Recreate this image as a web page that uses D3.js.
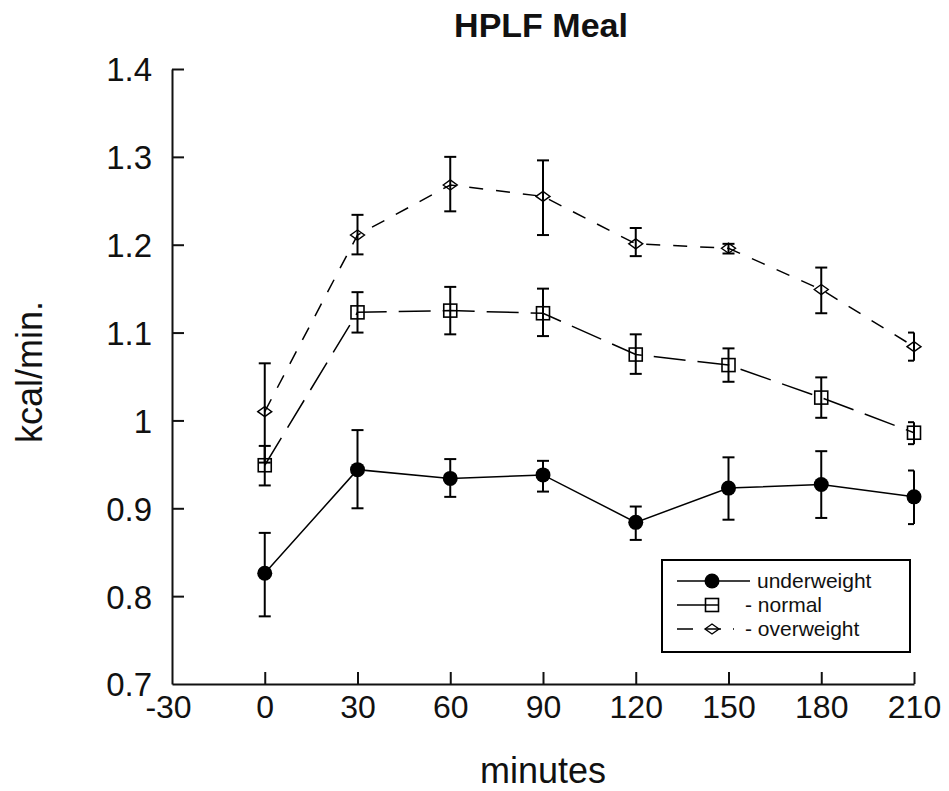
<!DOCTYPE html>
<html>
<head>
<meta charset="utf-8">
<script src="https://cdn.jsdelivr.net/npm/d3@7"></script>
<style>
  body { margin: 0; background: #fff; }
  svg { font-family: "Liberation Sans", Arial, sans-serif; }
</style>
</head>
<body>
<div id="chart"></div>
<script>
// data
const minutes = [0, 30, 60, 90, 120, 150, 180, 210]
const xTicks = [-30, 0, 30, 60, 90, 120, 150, 180, 210]
const yTicks = [0.7, 0.8, 0.9, 1.0, 1.1, 1.2, 1.3, 1.4]

const underweight = [0.826, 0.944, 0.934, 0.938, 0.884, 0.923, 0.927, 0.913]
const underweightLo = [0.777, 0.900, 0.913, 0.919, 0.864, 0.887, 0.889, 0.882]
const underweightHi = [0.872, 0.989, 0.956, 0.954, 0.902, 0.958, 0.965, 0.943]

const normal = [0.949, 1.123, 1.125, 1.122, 1.075, 1.063, 1.026, 0.986]
const normalLo = [0.926, 1.100, 1.098, 1.096, 1.053, 1.044, 1.003, 0.973]
const normalHi = [0.971, 1.146, 1.152, 1.150, 1.098, 1.082, 1.049, 0.998]

const overweight = [1.010, 1.211, 1.268, 1.255, 1.201, 1.196, 1.149, 1.084]
const overweightLo = [0.952, 1.189, 1.238, 1.211, 1.187, 1.190, 1.122, 1.068]
const overweightHi = [1.065, 1.234, 1.300, 1.296, 1.219, 1.201, 1.174, 1.100]

const series = [
    { name: "underweight", label: "underweight", v: underweight, lo: underweightLo, hi: underweightHi, dash: null, marker: "circle" },
    { name: "normal", label: "- normal", v: normal, lo: normalLo, hi: normalHi, dash: "32,12", marker: "square" },
    { name: "overweight", label: "- overweight", v: overweight, lo: overweightLo, hi: overweightHi, dash: "14,13", marker: "diamond" }
]

const width = 949, height = 791
const margin = { top: 69, right: 35, bottom: 107, left: 172 }

const svg = d3.select("#chart").append("svg")
    .attr("width", width)
    .attr("height", height)

const x = d3.scaleLinear().domain([-30, 210]).range([margin.left, width - margin.right])
const y = d3.scaleLinear().domain([0.7, 1.4]).range([height - margin.bottom, margin.top])

// axes, ticks pointing inward like the original
const xAxis = svg.append("g")
    .attr("transform", "translate(0," + (height - margin.bottom) + ")")
    .call(d3.axisBottom(x).tickValues(xTicks).tickSizeInner(-12).tickSizeOuter(0).tickPadding(11).tickFormat(d => String(d)))
const yAxis = svg.append("g")
    .attr("transform", "translate(" + margin.left + ",0)")
    .call(d3.axisLeft(y).tickValues(yTicks).tickSizeInner(-12).tickSizeOuter(0).tickPadding(20).tickFormat(d => d === 1 ? "1" : d3.format(".1f")(d)))

svg.selectAll(".domain, .tick line").attr("stroke", "#111").attr("stroke-width", 2)
xAxis.selectAll("text").attr("font-size", 32).attr("fill", "#111")
xAxis.selectAll(".tick").filter(d => d === -30).select("text").attr("dx", "-4")
yAxis.selectAll("text").attr("font-size", 33).attr("fill", "#111").attr("dy", "0.36em")
xAxis.selectAll(".tick").filter(d => d === -30).select("line").remove()
yAxis.selectAll(".tick").filter(d => d === 0.7).select("line").remove()

// titles
svg.append("text").attr("x", 541).attr("y", 37).attr("text-anchor", "middle")
    .attr("font-size", 34).attr("font-weight", "bold").attr("fill", "#111").text("HPLF Meal")
svg.append("text").attr("x", 543).attr("y", 783).attr("text-anchor", "middle")
    .attr("font-size", 36).attr("fill", "#111").text("minutes")
svg.append("text").attr("transform", "translate(42,372) rotate(-90)").attr("text-anchor", "middle")
    .attr("font-size", 36).attr("fill", "#111").text("kcal/min.")

function drawMarker(g, type, cx, cy) {
    if (type === "circle") {
        g.append("circle").attr("cx", cx).attr("cy", cy).attr("r", 7.5).attr("fill", "#000")
    } else if (type === "square") {
        g.append("rect").attr("x", cx - 6.5).attr("y", cy - 6.5).attr("width", 13).attr("height", 13)
            .attr("fill", "none").attr("stroke", "#000").attr("stroke-width", 1.6)
    } else {
        g.append("path").attr("d", `M${cx - 7},${cy} L${cx},${cy - 5} L${cx + 7},${cy} L${cx},${cy + 5} Z`)
            .attr("fill", "none").attr("stroke", "#000").attr("stroke-width", 1.4)
    }
}

const line = d3.line().x(d => x(d[0])).y(d => y(d[1]))

series.forEach(s => {
    const g = svg.append("g").attr("class", s.name)
    const pts = minutes.map((m, i) => [m, s.v[i]])

    g.append("path")
        .attr("d", line(pts))
        .attr("fill", "none")
        .attr("stroke", "#000")
        .attr("stroke-width", 1.5)
        .attr("stroke-dasharray", s.dash)

    // error bars
    minutes.forEach((m, i) => {
        const cx = x(m)
        g.append("line").attr("x1", cx).attr("x2", cx).attr("y1", y(s.lo[i])).attr("y2", y(s.hi[i]))
            .attr("stroke", "#000").attr("stroke-width", 2)
        const cw = m === 210 ? [cx - 6, cx] : [cx - 6, cx + 6]
        ;[s.lo[i], s.hi[i]].forEach(v => {
            g.append("line").attr("x1", cw[0]).attr("x2", cw[1]).attr("y1", y(v)).attr("y2", y(v))
                .attr("stroke", "#000").attr("stroke-width", 2)
        })
        drawMarker(g, s.marker, cx, y(s.v[i]))
    })
})

// legend
const lg = svg.append("g")
lg.append("rect").attr("x", 662).attr("y", 560).attr("width", 248).attr("height", 92)
    .attr("fill", "#fff").attr("stroke", "#000").attr("stroke-width", 2)
const rowY = [581, 605, 629]
series.forEach((s, i) => {
    const ly = rowY[i]
    lg.append("line").attr("x1", 677).attr("x2", s.dash ? 734 : 750).attr("y1", ly).attr("y2", ly)
        .attr("stroke", "#000").attr("stroke-width", 1.5)
        .attr("stroke-dasharray", s.dash ? (s.marker === "square" ? "41,100" : "16,12") : null)
    drawMarker(lg, s.marker, 712, ly)
    lg.append("text").attr("x", s.marker === "circle" ? 757 : 745).attr("y", ly).attr("dy", "0.35em")
        .attr("font-size", 21).attr("fill", "#111").text(s.label)
})
</script>
</body>
</html>
